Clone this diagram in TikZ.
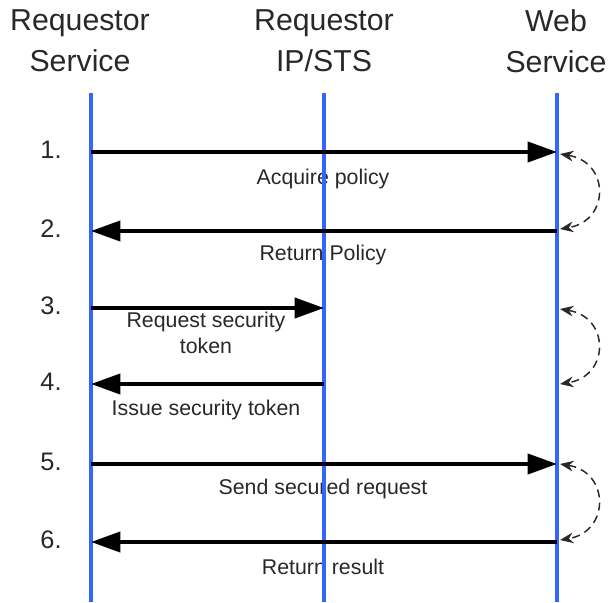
\documentclass[tikz,border=0pt]{standalone}
\usepackage{fontspec}
\setmainfont{Liberation Sans}
\usepackage{xcolor}
\usetikzlibrary{arrows.meta}
\definecolor{lifeblue}{RGB}{51,102,255}
\definecolor{inkgray}{RGB}{40,40,40}

\begin{document}
\begin{tikzpicture}[
    x=0.75pt, y=-0.75pt,
    life/.style={draw=lifeblue, line width=2.4pt},
    msg/.style={-{Triangle[length=22pt, width=15pt]}, line width=3pt},
    retry/.style={{Stealth[length=10pt, width=8pt]}-{Stealth[length=10pt, width=8pt]}, dash pattern=on 6pt off 4pt, line width=1.1pt, draw=inkgray},
    head/.style={font=\fontsize{22.7}{31}\selectfont, align=center, text=inkgray},
    lbl/.style={font=\fontsize{16}{19}\selectfont, align=center, text=inkgray},
    num/.style={font=\fontsize{19}{22}\selectfont, text=inkgray}
  ]
    \useasboundingbox (0,0) rectangle (609,602);

    % headers
    \node[head] (rsh) at (80,41) {Requestor\\Service};
    \node[head] (iph) at (324,41) {Requestor\\IP/STS};
    \node[head] (wsh) at (556,41) {Web\\Service};

    % labels go under the lifelines
    \node[lbl] (acq) at (323,179) {Acquire policy};
    \node[lbl] (ret) at (323,255) {Return Policy};
    \node[lbl] (req) at (206,333) {Request security\\token};
    \node[lbl] (iss) at (206,410) {Issue security token};
    \node[lbl] (snd) at (323,489) {Send secured request};
    \node[lbl] (res) at (323,567) {Return result};

    % lifelines
    \coordinate (rstop) at (91,93);
    \coordinate (iptop) at (324,93);
    \coordinate (wstop) at (557,93);
    \coordinate (rsbot) at (91,602);
    \coordinate (ipbot) at (324,602);
    \coordinate (wsbot) at (557,602);
    \draw[life] (rstop) -- (rsbot);
    \draw[life] (iptop) -- (ipbot);
    \draw[life] (wstop) -- (wsbot);

    % steps
    \foreach \i/\y in {1/152, 2/231, 3/308, 4/384, 5/464, 6/542} {
      \coordinate (rs\i) at (91,\y);
      \coordinate (ip\i) at (324,\y);
      \coordinate (ws\i) at (557,\y);
      \node[num] (n\i) at (51,\y-2) {\i.};
    }

    \draw[msg] (rs1) -- (ws1);
    \draw[msg] (ws2) -- (rs2);
    \draw[msg] (rs3) -- (ip3);
    \draw[msg] (ip4) -- (rs4);
    \draw[msg] (rs5) -- (ws5);
    \draw[msg] (ws6) -- (rs6);

    % dashed loops at the web service
    \coordinate (w1) at (560,154);
    \coordinate (w2) at (560,229);
    \coordinate (w3) at (560,309);
    \coordinate (w4) at (560,384);
    \coordinate (w5) at (560,464);
    \coordinate (w6) at (560,540);
    \draw[retry] (w1) .. controls (610,162) and (610,221) .. (w2);
    \draw[retry] (w3) .. controls (610,317) and (610,376) .. (w4);
    \draw[retry] (w5) .. controls (610,472) and (610,532) .. (w6);
  \end{tikzpicture}
\end{document}
